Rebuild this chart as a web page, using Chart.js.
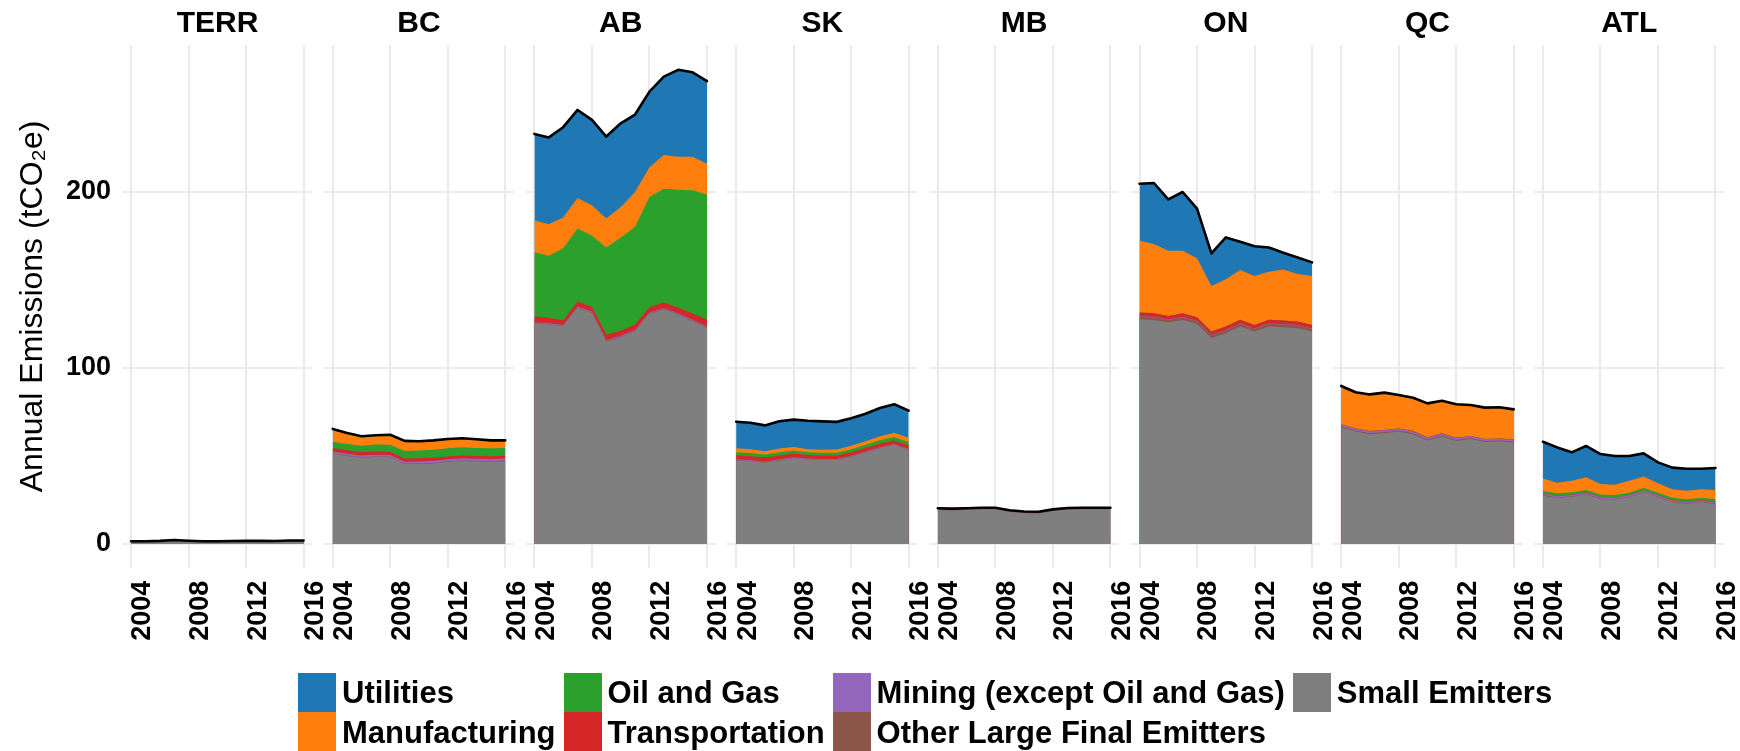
<!DOCTYPE html>
<html>
<head>
<meta charset="utf-8">
<title>Annual Emissions by Region</title>
<script src="https://cdn.jsdelivr.net/npm/chart.js@4.4.1/dist/chart.umd.min.js"></script>
<style>
  html, body { margin:0; padding:0; background:#fff; }
  body { width:1740px; height:751px; position:relative; overflow:hidden; font-family:'Liberation Sans', Arial, sans-serif; }
  canvas.panel { position:absolute; top:0; }
  #legend { position:absolute; left:298px; top:673px; display:grid; grid-auto-flow:column; grid-template-rows:39.4px 39.4px; column-gap:8px; z-index:5; }
  .item { display:flex; align-items:center; height:39.4px; }
  .swatch { width:38px; height:39.4px; flex:none; }
  .label { margin-left:6px; font-weight:bold; font-size:31px; color:#000; white-space:nowrap; line-height:1; }
</style>
</head>
<body>
<div id="charts"></div>
<div id="legend"></div>
<script>
// ---------- DATA ----------
const years = [2004, 2005, 2006, 2007, 2008, 2009, 2010, 2011, 2012, 2013, 2014, 2015, 2016];
const regions = ['TERR', 'BC', 'AB', 'SK', 'MB', 'ON', 'QC', 'ATL'];
const xTickYears = [2004, 2008, 2012, 2016];
const yTickValues = [0, 100, 200];
const yAxisTitle = 'Annual Emissions (tCO\u2082e)';

// stacking order, bottom to top
const sectors = ['Small Emitters', 'Other Large Final Emitters', 'Mining (except Oil and Gas)', 'Transportation', 'Oil and Gas', 'Manufacturing', 'Utilities'];
// legend order
const legendSectors = ['Utilities', 'Manufacturing', 'Oil and Gas', 'Transportation', 'Mining (except Oil and Gas)', 'Other Large Final Emitters', 'Small Emitters'];
const sectorColors = {
  'Utilities': '#1f77b4',
  'Manufacturing': '#ff7f0e',
  'Oil and Gas': '#2ca02c',
  'Transportation': '#d62728',
  'Mining (except Oil and Gas)': '#9467bd',
  'Other Large Final Emitters': '#8c564b',
  'Small Emitters': '#7f7f7f'
};

const smallEmitters = {
  TERR: [0.9, 0.9, 1.1, 1.6, 1.2, 0.9, 0.9, 1.0, 1.2, 1.1, 1.0, 1.3, 1.3],
  BC:   [51.3, 50.0, 49.0, 49.4, 49.3, 45.4, 45.5, 45.8, 46.6, 47.2, 46.9, 46.8, 47.1],
  AB:   [125.0, 124.7, 123.7, 134.1, 131.3, 114.9, 117.5, 120.9, 130.7, 133.2, 130.3, 126.6, 122.8],
  SK:   [47.5, 47.0, 46.2, 47.5, 48.7, 48.0, 47.7, 47.7, 49.6, 52.0, 54.4, 56.2, 53.4],
  MB:   [19.3, 19.1, 19.3, 19.6, 19.6, 18.2, 17.5, 17.3, 18.7, 19.5, 19.6, 19.6, 19.6],
  ON:   [127.7, 127.3, 125.8, 127.3, 125.1, 117.0, 119.8, 123.6, 120.7, 123.6, 123.2, 122.6, 120.7],
  QC:   [66.2, 63.9, 62.4, 63.0, 63.9, 62.4, 58.8, 61.1, 58.6, 59.6, 57.9, 58.2, 57.7],
  ATL:  [27.5, 26.2, 26.8, 28.1, 25.6, 25.2, 26.6, 29.4, 26.6, 23.7, 22.8, 23.7, 22.8]
};
const otherLargeFinalEmitters = {
  TERR: [0.2, 0.2, 0.2, 0.2, 0.2, 0.2, 0.2, 0.2, 0.2, 0.2, 0.2, 0.2, 0.2],
  BC:   [0.3, 0.3, 0.3, 0.3, 0.3, 0.3, 0.3, 0.3, 0.3, 0.3, 0.3, 0.3, 0.3],
  AB:   [0.3, 0.3, 0.3, 0.3, 0.3, 0.3, 0.3, 0.3, 0.3, 0.3, 0.3, 0.3, 0.3],
  SK:   [0.2, 0.2, 0.2, 0.2, 0.2, 0.2, 0.2, 0.2, 0.2, 0.2, 0.2, 0.2, 0.2],
  MB:   [0.2, 0.2, 0.2, 0.2, 0.2, 0.2, 0.2, 0.2, 0.2, 0.2, 0.2, 0.2, 0.2],
  ON:   [1.5, 1.5, 1.5, 1.5, 1.5, 1.5, 1.5, 1.5, 1.5, 1.5, 1.5, 1.5, 1.5],
  QC:   [0.6, 0.6, 0.6, 0.6, 0.6, 0.6, 0.6, 0.6, 0.6, 0.6, 0.6, 0.6, 0.6],
  ATL:  [0.3, 0.3, 0.3, 0.3, 0.3, 0.3, 0.3, 0.3, 0.3, 0.3, 0.3, 0.3, 0.3]
};
const mining = {
  TERR: [0.3, 0.3, 0.3, 0.3, 0.3, 0.3, 0.3, 0.3, 0.3, 0.3, 0.3, 0.3, 0.3],
  BC:   [1.0, 1.0, 1.0, 1.0, 1.0, 1.1, 1.1, 1.2, 1.2, 1.2, 1.2, 1.2, 1.2],
  AB:   [0.5, 0.5, 0.5, 0.5, 0.5, 0.5, 0.5, 0.5, 0.5, 0.5, 0.5, 0.5, 0.5],
  SK:   [0.4, 0.4, 0.4, 0.4, 0.4, 0.4, 0.4, 0.4, 0.4, 0.4, 0.4, 0.4, 0.4],
  MB:   [0.2, 0.2, 0.2, 0.2, 0.2, 0.2, 0.2, 0.2, 0.2, 0.2, 0.2, 0.2, 0.2],
  ON:   [0.3, 0.3, 0.3, 0.3, 0.3, 0.3, 0.3, 0.3, 0.3, 0.3, 0.3, 0.3, 0.3],
  QC:   [1.0, 1.0, 1.0, 1.0, 1.0, 1.0, 1.0, 1.0, 1.0, 1.0, 1.0, 1.0, 1.0],
  ATL:  [0.8, 0.8, 0.8, 0.8, 0.8, 0.8, 0.8, 0.8, 0.8, 0.8, 0.8, 0.8, 0.8]
};
const transportation = {
  TERR: [0.2, 0.2, 0.2, 0.2, 0.2, 0.2, 0.2, 0.2, 0.2, 0.2, 0.2, 0.2, 0.2],
  BC:   [2.0, 2.0, 1.8, 1.8, 1.8, 1.8, 1.8, 1.7, 1.6, 1.6, 1.6, 1.6, 1.6],
  AB:   [3.4, 3.0, 2.5, 3.0, 2.5, 3.2, 2.8, 3.0, 3.0, 3.2, 3.2, 3.5, 4.0],
  SK:   [2.3, 2.3, 2.3, 2.2, 2.1, 2.0, 2.0, 2.0, 2.0, 2.0, 2.0, 2.0, 2.0],
  MB:   [0.6, 0.6, 0.6, 0.6, 0.6, 0.6, 0.6, 0.6, 0.6, 0.6, 0.6, 0.6, 0.6],
  ON:   [2.0, 2.0, 2.0, 2.0, 2.0, 2.0, 2.0, 2.0, 2.0, 2.0, 2.0, 2.0, 2.0],
  QC:   [0.2, 0.2, 0.2, 0.2, 0.2, 0.2, 0.2, 0.2, 0.2, 0.2, 0.2, 0.2, 0.2],
  ATL:  [0.2, 0.2, 0.2, 0.2, 0.2, 0.2, 0.2, 0.2, 0.2, 0.2, 0.2, 0.2, 0.2]
};
const oilAndGas = {
  TERR: [0, 0, 0, 0, 0, 0, 0, 0, 0, 0, 0, 0, 0],
  BC:   [3.5, 3.5, 3.8, 4.0, 4.0, 4.2, 4.4, 4.6, 4.7, 4.7, 4.6, 4.5, 4.4],
  AB:   [36.5, 35.3, 41.0, 41.3, 40.5, 49.6, 53.1, 55.5, 62.7, 64.7, 67.0, 70.1, 70.9],
  SK:   [1.8, 1.8, 1.7, 1.8, 1.7, 1.5, 1.5, 1.6, 1.7, 1.8, 1.9, 2.0, 2.0],
  MB:   [0, 0, 0, 0, 0, 0, 0, 0, 0, 0, 0, 0, 0],
  ON:   [0, 0, 0, 0, 0, 0, 0, 0, 0, 0, 0, 0, 0],
  QC:   [0, 0, 0, 0, 0, 0, 0, 0, 0, 0, 0, 0, 0],
  ATL:  [1.3, 1.3, 1.3, 1.3, 1.3, 1.3, 1.3, 1.3, 1.3, 1.3, 1.3, 1.3, 1.3]
};
const manufacturing = {
  TERR: [0, 0, 0, 0, 0, 0, 0, 0, 0, 0, 0, 0, 0],
  BC:   [7.0, 6.0, 5.0, 5.0, 5.4, 5.5, 5.0, 5.0, 5.0, 4.8, 4.6, 4.2, 4.0],
  AB:   [18.3, 17.9, 17.5, 17.4, 17.4, 16.4, 17.3, 19.8, 16.8, 19.1, 18.7, 19.0, 17.5],
  SK:   [2.2, 2.1, 1.9, 2.2, 2.0, 1.8, 1.8, 1.8, 1.9, 2.0, 2.3, 2.4, 2.4],
  MB:   [0, 0, 0, 0, 0, 0, 0, 0, 0, 0, 0, 0, 0],
  ON:   [40.8, 39.3, 37.0, 35.5, 33.4, 25.8, 26.8, 28.3, 27.8, 27.3, 29.0, 27.0, 27.8],
  QC:   [21.8, 20.5, 20.8, 21.2, 19.0, 18.9, 19.3, 18.5, 19.0, 17.6, 17.8, 17.7, 17.0],
  ATL:  [7.2, 6.0, 6.6, 7.2, 5.9, 5.9, 6.8, 6.3, 5.3, 4.8, 4.9, 4.8, 5.3]
};
const utilities = {
  TERR: [0, 0, 0, 0, 0, 0, 0, 0, 0, 0, 0, 0, 0],
  BC:   [0.3, 0.3, 0.3, 0.3, 0.3, 0.3, 0.3, 0.3, 0.3, 0.3, 0.3, 0.3, 0.3],
  AB:   [49.0, 49.3, 51.3, 50.0, 48.5, 46.6, 47.5, 44.0, 43.0, 44.5, 49.4, 48.0, 47.0],
  SK:   [15.1, 15.1, 14.7, 15.5, 15.6, 16.1, 16.1, 15.7, 15.7, 15.6, 16.1, 16.2, 15.4],
  MB:   [0, 0, 0, 0, 0, 0, 0, 0, 0, 0, 0, 0, 0],
  ON:   [32.4, 34.7, 29.2, 33.4, 28.3, 18.5, 23.8, 16.0, 16.9, 13.8, 9.5, 9.4, 7.7],
  QC:   [0, 0, 0, 0, 0, 0, 0, 0, 0, 0, 0, 0, 0],
  ATL:  [20.8, 20.1, 16.1, 17.8, 17.0, 16.3, 14.0, 13.2, 11.9, 12.3, 12.5, 11.7, 12.5]
};
const seriesBySector = {
  'Small Emitters': smallEmitters,
  'Other Large Final Emitters': otherLargeFinalEmitters,
  'Mining (except Oil and Gas)': mining,
  'Transportation': transportation,
  'Oil and Gas': oilAndGas,
  'Manufacturing': manufacturing,
  'Utilities': utilities
};

// ---------- LAYOUT ----------
const FONT = "'Liberation Sans', Arial, sans-serif";
Chart.defaults.font.family = FONT;
Chart.defaults.color = '#000';

const PANEL_LEFT0 = 122.4, PANEL_STEP = 201.7, PANEL_W = 189.8;
const Y_AXIS_W = 122.4;
const CHART_BOTTOM = 567.8, CANVAS_H = 680;
const X_MIN = 2003.4, X_MAX = 2016.6, Y_MIN = -13.5, Y_MAX = 283.5;
const GRID = '#ebebeb';

const holder = document.getElementById('charts');

regions.forEach((reg, i) => {
  const first = i === 0;
  const panelLeft = PANEL_LEFT0 + PANEL_STEP * i;
  let canvasLeft, width, padL, padR;
  if (first) {
    canvasLeft = 0;
    width = Math.ceil(Y_AXIS_W * 2 + PANEL_W);
    padL = 0; padR = 0;
  } else {
    canvasLeft = Math.floor(panelLeft - 8);
    padL = panelLeft - canvasLeft;
    width = Math.ceil(padL + PANEL_W + 22);
    padR = width - padL - PANEL_W;
  }
  const cv = document.createElement('canvas');
  cv.className = 'panel';
  cv.width = width; cv.height = CANVAS_H;
  cv.style.left = canvasLeft + 'px';
  cv.style.width = width + 'px'; cv.style.height = CANVAS_H + 'px';
  holder.appendChild(cv);

  const totals = years.map((_, k) => sectors.reduce((s, name) => s + seriesBySector[name][reg][k], 0));
  const datasets = [{
    label: 'Total',
    data: years.map((yr, k) => ({ x: yr, y: totals[k] })),
    stack: 'outline',
    borderColor: '#000', borderWidth: 2.6, fill: false,
    borderJoinStyle: 'round', borderCapStyle: 'round',
    pointRadius: 0, tension: 0
  }].concat(sectors.map(name => ({
    label: name,
    data: years.map((yr, k) => ({ x: yr, y: seriesBySector[name][reg][k] })),
    stack: 'emissions',
    backgroundColor: sectorColors[name],
    borderColor: 'rgba(0,0,0,0)', borderWidth: 1,
    fill: 'origin', pointRadius: 0, tension: 0
  })));

  const scales = {
    x: {
      type: 'linear', min: X_MIN, max: X_MAX,
      afterBuildTicks: s => { s.ticks = xTickYears.map(v => ({ value: v })); },
      ticks: { autoSkip: false, minRotation: 90, maxRotation: 90, padding: 13, labelOffset: 12,
               color: '#000', font: { size: 27, weight: 'bold' }, callback: v => String(v) },
      grid: { color: GRID, lineWidth: 2, drawTicks: false },
      border: { display: false },
      afterFit: s => { s.height = CANVAS_H - CHART_BOTTOM; s.paddingLeft = 0; s.paddingRight = 0; }
    },
    y: {
      type: 'linear', stacked: true, min: Y_MIN, max: Y_MAX,
      afterBuildTicks: s => { s.ticks = yTickValues.map(v => ({ value: v })); },
      ticks: { display: first, padding: 11.4, color: '#000', font: { size: 27, weight: 'bold' } },
      grid: { color: GRID, lineWidth: 2, drawTicks: false },
      border: { display: false },
      title: { display: first, text: yAxisTitle, color: '#000', font: { size: 32, weight: 'normal' }, padding: { top: 14, bottom: 0 } },
      afterFit: s => { s.width = first ? Y_AXIS_W : 0; s.paddingTop = 0; s.paddingBottom = 0; }
    }
  };
  if (first) {
    scales.yRight = {
      type: 'linear', position: 'right', display: true,
      grid: { display: false, drawTicks: false }, ticks: { display: false }, border: { display: false },
      afterFit: s => { s.width = width - Y_AXIS_W - PANEL_W; s.paddingTop = 0; s.paddingBottom = 0; }
    };
  }

  new Chart(cv, {
    type: 'line',
    data: { datasets },
    options: {
      responsive: false, animation: false, events: [],
      layout: { padding: { left: padL, right: padR, top: 0, bottom: 0 } },
      plugins: {
        legend: { display: false },
        tooltip: { enabled: false },
        title: { display: true, text: reg, color: '#000', font: { size: 30, weight: 'bold' }, padding: { top: 6, bottom: 3 } }
      },
      scales
    }
  });
});

// ---------- LEGEND (HTML, real text) ----------
const legend = document.getElementById('legend');
legendSectors.forEach(name => {
  const item = document.createElement('div');
  item.className = 'item';
  const sw = document.createElement('div');
  sw.className = 'swatch';
  sw.style.background = sectorColors[name];
  const lb = document.createElement('span');
  lb.className = 'label';
  lb.textContent = name;
  item.appendChild(sw); item.appendChild(lb);
  legend.appendChild(item);
});
</script>
</body>
</html>
